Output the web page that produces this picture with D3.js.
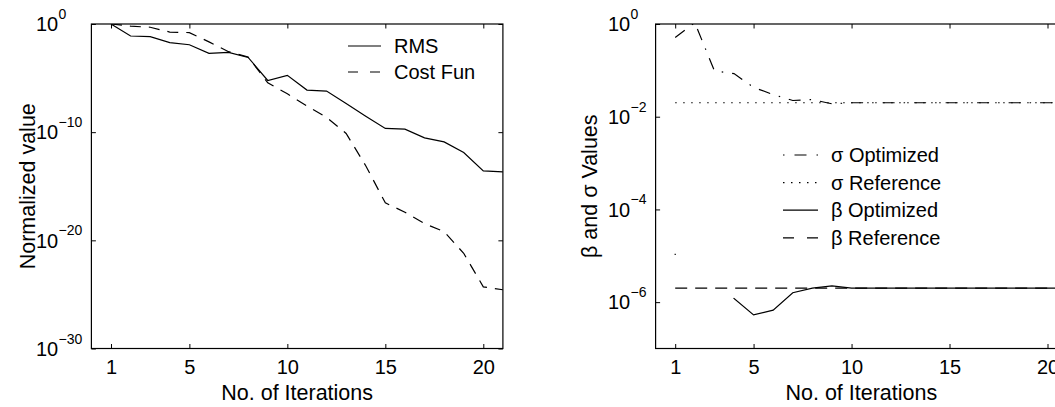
<!DOCTYPE html>
<html><head><meta charset="utf-8">
<script src="https://cdn.jsdelivr.net/npm/d3@7"></script>
<style>
body{margin:0;background:#fff}
svg{display:block}
text{font-family:"Liberation Sans",Arial,Helvetica,sans-serif;fill:#000}
</style>
</head><body>
<svg id="c" width="1055" height="407"></svg>
<script>
// ---------- data ----------
const iterations = [1,2,3,4,5,6,7,8,9,10,11,12,13,14,15,16,17,18,19,20,21];
const xTicks = [1,5,10,15,20];

const rmsValues  = [1, 7.8e-2, 6.8e-2, 1.9e-2, 1.2e-2, 1.95e-3, 2.4e-3, 8.1e-4, 6.0e-6, 1.8e-5,
                    7.8e-7, 6.3e-7, 4.5e-8, 3.0e-9, 2.2e-10, 1.9e-10, 3.0e-11, 1.26e-11, 1.3e-12, 2.6e-14, 2.1e-14];
const costValues = [1, 0.63, 0.5, 0.18, 0.16, 2.24e-2, 2.75e-3, 8.9e-4, 3.7e-6, 3.5e-7,
                    2.6e-8, 2.3e-9, 7.6e-11, 7.9e-14, 2.9e-17, 4.0e-18, 3.5e-19, 6.3e-20, 6.3e-22, 5.0e-25, 2.7e-25];
const leftYTicks = [1e0, 1e-10, 1e-20, 1e-30];
const leftYTickExp = ["0", "\u221210", "\u221220", "\u221230"];

const sigmaOptimized = [0.51, 1.07, 0.098, 0.085, 0.043, 0.030, 0.0224, 0.0234, 0.019, 0.02,
                        0.02, 0.02, 0.02, 0.02, 0.02, 0.02, 0.02, 0.02, 0.02, 0.02, 0.02];
const sigmaReference = [0.02,0.02,0.02,0.02,0.02,0.02,0.02,0.02,0.02,0.02,0.02,
                        0.02,0.02,0.02,0.02,0.02,0.02,0.02,0.02,0.02,0.02];
const betaOptimized  = [1.07e-5, null, null, 1.2e-6, 5.3e-7, 6.7e-7, 1.6e-6, 2.0e-6, 2.25e-6, 2.0e-6,
                        2.0e-6, 2.0e-6, 2.0e-6, 2.0e-6, 2.0e-6, 2.0e-6, 2.0e-6, 2.0e-6, 2.0e-6, 2.0e-6, 2.0e-6];
const betaReference  = [2e-6,2e-6,2e-6,2e-6,2e-6,2e-6,2e-6,2e-6,2e-6,2e-6,2e-6,
                        2e-6,2e-6,2e-6,2e-6,2e-6,2e-6,2e-6,2e-6,2e-6,2e-6];
const rightYTicks = [1e0, 1e-2, 1e-4, 1e-6];
const rightYTickExp = ["0", "\u22122", "\u22124", "\u22126"];

// ---------- drawing ----------
const svg = d3.select("#c");
const TOP = 24, BOTTOM = 348.5;

function panel(cfg) {
  const x = d3.scaleLinear().domain([0, 21]).range([cfg.left, cfg.left + 411.5]);
  const y = d3.scaleLog().domain(cfg.yDomain).range([BOTTOM, TOP]);
  const g = svg.append("g");
  const clipId = "clip" + cfg.id;
  svg.append("clipPath").attr("id", clipId).append("rect")
    .attr("x", x.range()[0]).attr("y", TOP)
    .attr("width", x.range()[1] - x.range()[0]).attr("height", BOTTOM - TOP);

  // series
  const line = d3.line()
    .defined(d => d[1] != null)
    .x(d => x(d[0])).y(d => y(d[1]));
  const lines = g.append("g").attr("clip-path", `url(#${clipId})`);
  cfg.series.forEach(s => {
    lines.append("path")
      .attr("d", line(iterations.map((it, i) => [it, s.values[i]])))
      .attr("fill", "none").attr("stroke", "#000")
      .attr("stroke-width", 1.2)
      .attr("stroke-linecap", s.cap || "butt")
      .attr("stroke-dasharray", s.dash || null);
  });

  // axes (inward ticks on all four sides)
  const tl = 4.5;
  g.append("g").attr("transform", `translate(0,${BOTTOM})`)
    .call(d3.axisBottom(x).tickValues(xTicks).tickSizeInner(-tl).tickSizeOuter(0).tickPadding(11))
    .call(a => { a.select(".domain").remove(); a.selectAll("text").attr("font-size", 20).attr("font-family", null); });
  g.append("g").attr("transform", `translate(0,${TOP})`)
    .call(d3.axisTop(x).tickValues(xTicks).tickSizeInner(-tl).tickSizeOuter(0).tickFormat(""))
    .call(a => a.select(".domain").remove());
  g.append("g").attr("transform", `translate(${x.range()[0]},0)`)
    .call(d3.axisLeft(y).tickValues(cfg.yTicks).tickSizeInner(-tl).tickSizeOuter(0).tickFormat(""))
    .call(a => a.select(".domain").remove());
  g.append("g").attr("transform", `translate(${x.range()[1]},0)`)
    .call(d3.axisRight(y).tickValues(cfg.yTicks).tickSizeInner(-tl).tickSizeOuter(0).tickFormat(""))
    .call(a => a.select(".domain").remove());
  g.selectAll(".tick line").attr("stroke", "#000").attr("stroke-width", 1);

  // box
  g.append("rect").attr("x", x.range()[0]).attr("y", TOP)
    .attr("width", x.range()[1] - x.range()[0]).attr("height", BOTTOM - TOP)
    .attr("fill", "none").attr("stroke", "#000").attr("stroke-width", 1.2);

  // y tick labels 10^n
  const lab = g.append("g");
  cfg.yTicks.forEach((t, i) => {
    const yy = y(t);
    lab.append("text").attr("x", x.range()[0] - cfg.labOff).attr("y", yy + 7.3)
      .attr("font-size", 20).text("10");
    lab.append("text").attr("x", x.range()[0] - cfg.labOff + 22.6).attr("y", yy - 5)
      .attr("font-size", 14).text(cfg.yExp[i]);
  });

  // axis titles
  g.append("text").attr("x", (x.range()[0] + x.range()[1]) / 2).attr("y", 400)
    .attr("text-anchor", "middle").attr("font-size", 21.5).text("No. of Iterations");
  g.append("text")
    .attr("transform", `translate(${x.range()[0] - cfg.titleOff},${(TOP + BOTTOM) / 2}) rotate(-90)`)
    .attr("text-anchor", "middle").attr("font-size", 21.5).text(cfg.yTitle);

  // legend
  const lg = g.append("g");
  cfg.series.filter(s => s.label).forEach((s, i) => {
    const ly = cfg.legend.y + i * cfg.legend.dy;
    lg.append("line").attr("x1", cfg.legend.x).attr("x2", cfg.legend.x + cfg.legend.w)
      .attr("y1", ly).attr("y2", ly)
      .attr("stroke", "#000").attr("stroke-width", 1.2)
      .attr("stroke-dasharray", s.legendDash || s.dash || null);
    lg.append("text").attr("x", cfg.legend.x + cfg.legend.w + 13).attr("y", ly + 7.2)
      .attr("font-size", 20).text(s.label);
  });
}

panel({
  id: "L", left: 91.4, yDomain: [1e-30, 1], yTicks: leftYTicks, yExp: leftYTickExp,
  labOff: 55.4, titleOff: 56.5, yTitle: "Normalized value",
  legend: {x: 348, y: 46, dy: 26, w: 33},
  series: [
    {values: rmsValues, label: "RMS"},
    {values: costValues, label: "Cost Fun", dash: "11,8", legendDash: "10,12"}
  ]
});

panel({
  id: "R", left: 655.6, yDomain: [1e-7, 1], yTicks: rightYTicks, yExp: rightYTickExp,
  labOff: 47.6, titleOff: 58.5, yTitle: "\u03b2 and \u03c3 Values",
  legend: {x: 783, y: 155, dy: 27.6, w: 35},
  series: [
    {values: sigmaOptimized, label: "\u03c3 Optimized", dash: "12,9,1.5,9", legendDash: "1.5,10,12,10,1.5"},
    {values: sigmaReference, label: "\u03c3 Reference", dash: "1.5,6.5"},
    {values: betaOptimized, label: "\u03b2 Optimized", cap: "square"},
    {values: betaReference, label: "\u03b2 Reference", dash: "12,8", legendDash: "11,13"}
  ]
});
</script>
</body></html>
